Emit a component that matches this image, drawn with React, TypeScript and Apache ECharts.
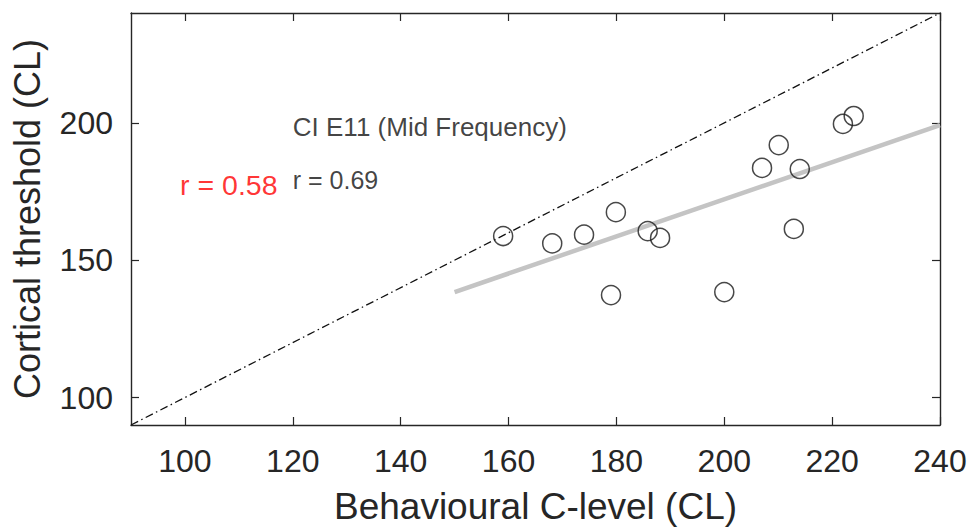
import React, { useEffect, useRef } from "react";
import * as echarts from "echarts";

const behaviouralCLevel = [159.0, 168.1, 174.0, 179.9, 179.0, 185.8, 188.1, 200.0, 207.0, 210.1, 214.0, 212.9, 222.0, 224.0];
const corticalThreshold = [158.8, 156.1, 159.3, 167.5, 137.3, 160.6, 158.1, 138.4, 183.6, 191.9, 183.2, 161.4, 199.6, 202.5];

const regressionX = [150, 240];
const regressionY = [138.4, 199.2];

const identityLine = [90, 240];

const xTicks = [100, 120, 140, 160, 180, 200, 220, 240];
const yTicks = [100, 150, 200];

const annotationTexts = ["CI E11 (Mid Frequency)", "r = 0.69", "r = 0.58"];
const annotationX = [120, 120, 99.1];
const annotationY = [198.6, 179.2, 177.4];

const FONT = '"Liberation Sans", Arial, Helvetica, sans-serif';
const AXIS_COLOR = "#262626";

export default function App() {
  const ref = useRef<HTMLDivElement>(null);

  useEffect(() => {
    if (!ref.current) return;
    const chart = echarts.init(ref.current, undefined, { renderer: "svg" });

    const axisCommon = {
      type: "value" as const,
      axisLine: { show: true, onZero: false, lineStyle: { color: AXIS_COLOR, width: 1.4 } },
      axisTick: { show: true, inside: true, length: 8, lineStyle: { color: AXIS_COLOR, width: 1.2 } },
      splitLine: { show: false },
    };

    const annotationStyles = [
      { fontSize: 26, color: "#111111" },
      { fontSize: 25, color: "#111111" },
      { fontSize: 28.5, color: "#ff0000" },
    ];

    chart.setOption({
      animation: false,
      backgroundColor: "#ffffff",
      grid: { left: 131, right: 30, top: 13, bottom: 106, containLabel: false },
      xAxis: [
        {
          ...axisCommon,
          min: 90,
          max: 240,
          position: "bottom",
          name: "Behavioural C-level (CL)",
          nameLocation: "middle",
          nameGap: 63,
          nameTextStyle: { fontFamily: FONT, fontSize: 37, color: AXIS_COLOR },
          axisTick: { ...axisCommon.axisTick, customValues: xTicks },
          axisLabel: {
            show: true,
            customValues: xTicks,
            margin: 20,
            fontFamily: FONT,
            fontSize: 32,
            color: AXIS_COLOR,
          },
        },
        {
          ...axisCommon,
          min: 90,
          max: 240,
          position: "top",
          axisTick: { ...axisCommon.axisTick, customValues: xTicks },
          axisLabel: { show: false },
        },
      ],
      yAxis: [
        {
          ...axisCommon,
          min: 90,
          max: 240,
          position: "left",
          name: "Cortical threshold (CL)",
          nameLocation: "middle",
          nameGap: 86,
          nameTextStyle: { fontFamily: FONT, fontSize: 36, color: AXIS_COLOR },
          axisTick: { ...axisCommon.axisTick, customValues: yTicks },
          axisLabel: {
            show: true,
            customValues: yTicks,
            margin: 18,
            fontFamily: FONT,
            fontSize: 32,
            color: AXIS_COLOR,
          },
        },
        {
          ...axisCommon,
          min: 90,
          max: 240,
          position: "right",
          axisTick: { ...axisCommon.axisTick, customValues: yTicks },
          axisLabel: { show: false },
        },
      ],
      series: [
        {
          type: "line",
          data: identityLine.map((v) => [v, v]),
          symbol: "none",
          lineStyle: { color: "#111111", width: 1.3, type: [8, 3.5, 1.5, 3.5] },
          silent: true,
          z: 1,
        },
        {
          type: "line",
          data: regressionX.map((x, i) => [x, regressionY[i]]),
          symbol: "none",
          lineStyle: { color: "#c4c4c4", width: 4.5 },
          silent: true,
          z: 2,
        },
        {
          type: "scatter",
          data: behaviouralCLevel.map((x, i) => [x, corticalThreshold[i]]),
          symbol: "circle",
          symbolSize: 19,
          itemStyle: { color: "rgba(0,0,0,0)", borderColor: "#1a1a1a", borderWidth: 1.5 },
          z: 3,
        },
        {
          type: "scatter",
          symbolSize: 0,
          silent: true,
          z: 4,
          data: annotationTexts.map((t, i) => ({
            value: [annotationX[i], annotationY[i]],
            name: t,
            label: {
              show: true,
              position: [0, 0],
              align: "left",
              verticalAlign: "middle",
              formatter: t,
              fontFamily: FONT,
              fontSize: annotationStyles[i].fontSize,
              color: annotationStyles[i].color,
            },
          })),
        },
      ],
    });

    return () => chart.dispose();
  }, []);

  return (
    <div
      ref={ref}
      style={{ position: "fixed", left: 0, top: 0, width: 970, height: 531, background: "#fff" }}
    />
  );
}
